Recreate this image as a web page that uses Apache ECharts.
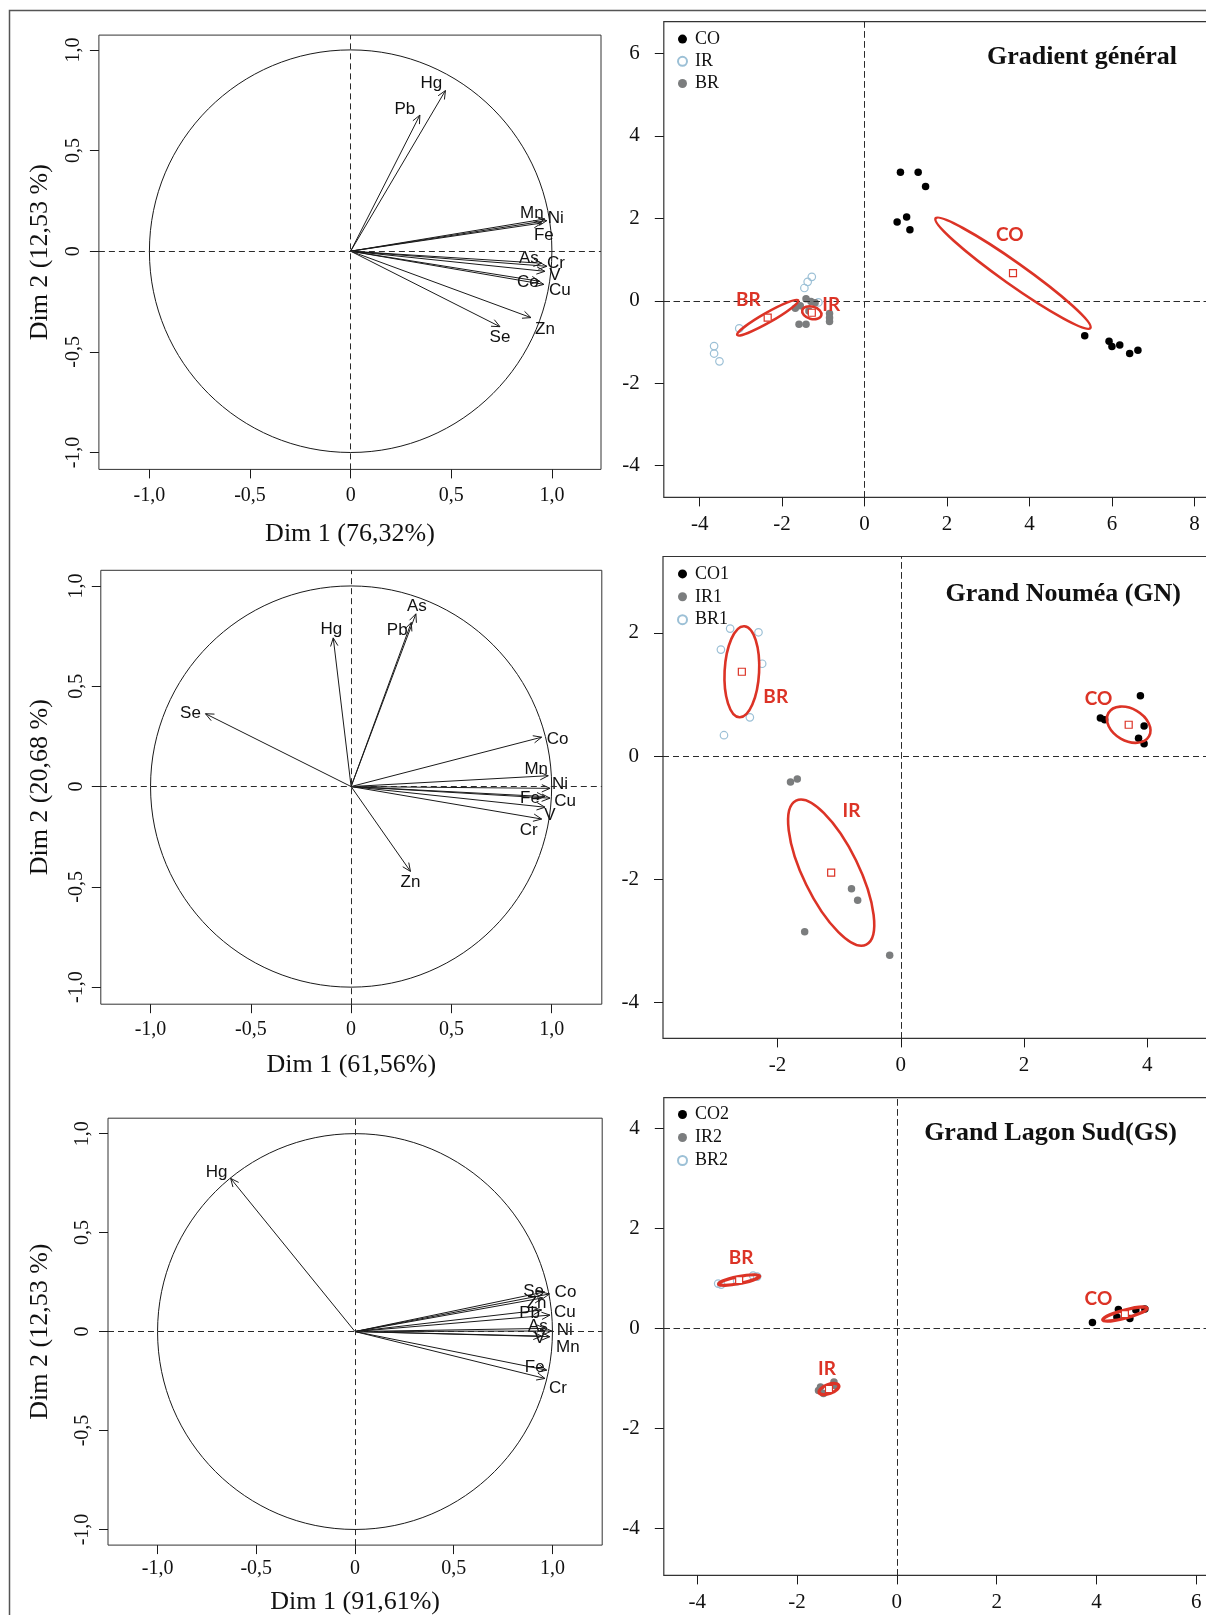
<!DOCTYPE html>
<html><head><meta charset="utf-8">
<script src="https://cdn.jsdelivr.net/npm/echarts@6/dist/echarts.min.js"></script>
<style>html,body{margin:0;padding:0;background:#fff}#c{width:1206px;height:1615px}</style>
</head><body><div id="c"></div>
<script>
// ===== DATA =====
// Correlation circles (Dim 1, Dim 2 loadings)
const varsGradient = ['Hg','Pb','Mn','Ni','Fe','As','Cr','V','Co','Cu','Zn','Se'];
const dim1Gradient = [0.471,0.344,0.965,0.975,0.95,0.95,0.975,0.965,0.94,0.96,0.896,0.742];
const dim2Gradient = [0.798,0.676,0.16,0.152,0.14,-0.06,-0.075,-0.1,-0.15,-0.165,-0.33,-0.375];

const varsGN = ['Hg','Pb','As','Se','Co','Mn','Ni','Fe','Cu','V','Cr','Zn'];
const dim1GN = [-0.089,0.30,0.323,-0.726,0.95,0.983,0.992,0.967,0.992,0.967,0.95,0.296];
const dim2GN = [0.741,0.818,0.861,0.363,0.246,0.054,-0.009,-0.05,-0.058,-0.103,-0.162,-0.423];

const varsGS = ['Hg','Se','Co','Zn','Pb','Cu','As','Ni','V','Mn','Fe','Cr'];
const dim1GS = [-0.63,0.96,0.985,0.95,0.945,0.987,0.962,0.996,0.945,0.987,0.971,0.962];
const dim2GS = [0.774,0.2,0.19,0.17,0.109,0.083,0.016,0.003,-0.023,-0.026,-0.195,-0.237];

const corrCircle = [[0, 0, 1]];

// Individual scores
const coGradient = [[0.87,3.12],[1.30,3.12],[1.48,2.77],[0.79,1.91],[1.02,2.03],[1.10,1.72],[5.34,-0.85],[5.93,-0.98],[6.00,-1.11],[6.19,-1.07],[6.43,-1.28],[6.63,-1.20]];
const irGradient = [[-1.28,0.58],[-1.38,0.46],[-1.46,0.31],[-1.12,-0.04],[-3.65,-1.10],[-3.65,-1.28],[-3.52,-1.47],[-3.04,-0.67]];
const brGradient = [[-1.42,0.05],[-1.20,-0.05],[-1.56,-0.12],[-1.68,-0.18],[-1.30,-0.02],[-1.59,-0.57],[-1.42,-0.57],[-0.85,-0.31],[-0.85,-0.41],[-0.85,-0.50],[-1.35,-0.25]];

const coGN = [[3.89,0.98],[3.24,0.62],[3.31,0.59],[3.95,0.49],[3.86,0.29],[3.95,0.20]];
const irGN = [[-1.79,-0.42],[-1.68,-0.37],[-0.80,-2.15],[-0.70,-2.34],[-1.56,-2.85],[-0.18,-3.23]];
const brGN = [[-2.77,2.07],[-2.31,2.01],[-2.92,1.73],[-2.25,1.50],[-2.45,0.63],[-2.87,0.34]];

const coGS = [[3.92,0.12],[4.44,0.38],[4.67,0.20],[4.97,0.39],[4.79,0.37],[4.41,0.23]];
const irGS = [[-1.57,-1.24],[-1.47,-1.30],[-1.26,-1.07],[-1.24,-1.14],[-1.53,-1.17]];
const brGS = [[-3.58,0.90],[-3.52,0.88],[-2.80,1.04],[-2.88,1.06],[-3.20,0.95]];

// Confidence ellipses: [centreX, centreY, semiMajor, semiMinor, angleDeg]
const ellGroups = ['CO','BR','IR'];
const ellGradient = [[3.60,0.67,2.30,0.27,-35.3],[-2.35,-0.41,0.85,0.12,29.6],[-1.28,-0.29,0.24,0.15,-15]];
const ellLabelGradient = [[3.52,1.59],[-2.82,0.01],[-0.81,-0.11]];
const ellGN = [[3.70,0.51,0.38,0.26,-30],[-2.58,1.37,0.74,0.28,87],[-1.13,-1.89,1.30,0.45,-64]];
const ellLabelGN = [[3.21,0.93],[-2.03,0.96],[-0.80,-0.88]];
const ellGS = [[4.57,0.29,0.46,0.08,14.8],[-3.16,0.97,0.42,0.07,11.3],[-1.36,-1.21,0.21,0.09,20]];
const ellLabelGS = [[4.04,0.60],[-3.12,1.42],[-1.40,-0.80]];

// Tick values
const ticksCircle = [-1,-0.5,0,0.5,1];
const ticksGradX = [-4,-2,0,2,4,6,8];
const ticksGradY = [-4,-2,0,2,4,6];
const ticksGNX = [-2,0,2,4];
const ticksGNY = [-4,-2,0,2];
const ticksGSX = [-4,-2,0,2,4,6];
const ticksGSY = [-4,-2,0,2,4];

// ===== LAYOUT (pixel label offsets for variable names) =====
const offGradient = {Hg:[-14,-7],Pb:[-15,-6],Mn:[-13,-6],Ni:[9,-2],Fe:[2,12],As:[-13,-5],Cr:[9,-3],V:[10,4],Co:[-12,1],Cu:[16,6],Zn:[14,12],Se:[0,11]};
const offGN = {Hg:[-2,-9],Pb:[-14,8],As:[1,-8],Se:[-15,0],Co:[16,2],Mn:[-12,-6],Ni:[10,-4],Fe:[-15,2],Cu:[15,3],V:[5,8],Cr:[-13,11],Zn:[0,11]};
const offGS = {Hg:[-14,-6],Se:[-11,-1],Co:[16,-2],Zn:[-6,5],Pb:[-12,3],Cu:[15,-3],As:[-7,-2],Ni:[13,-1],V:[-2,2],Mn:[18,11],Fe:[-12,-3],Cr:[13,10]};

const SERIF = '"Liberation Serif","Times New Roman",serif';
const SANS = '"Liberation Sans",Arial,sans-serif';
const RED = '#dc3326';
const INK = '#1a1a1a';

const fmtCircle = v => v === 0 ? '0' : v.toFixed(1).replace('.', ',');
const fmtInt = v => String(v);

function zeroLines() {
  return {silent:true, symbol:['none','none'], label:{show:false}, emphasis:{disabled:true},
    lineStyle:{type:[6,4], color:'#2a2a2a', width:1}, data:[{xAxis:0},{yAxis:0}]};
}

function xAx(gi, min, max, ticks, fmt, fs, margin, name, nameGap) {
  const ax = {gridIndex:gi, type:'value', min, max, position:'bottom',
    axisLine:{show:false, onZero:false}, splitLine:{show:false},
    axisTick:{show:true, length:9, lineStyle:{color:INK, width:1}, customValues:ticks},
    axisLabel:{customValues:ticks, formatter:fmt, fontFamily:SERIF, fontSize:fs, color:'#111', margin}};
  if (name) Object.assign(ax, {name, nameLocation:'middle', nameGap, nameTextStyle:{fontFamily:SERIF, fontSize:26, color:'#111'}});
  return ax;
}
function yAx(gi, min, max, ticks, fmt, fs, margin, rotate, name, nameGap) {
  const ax = {gridIndex:gi, type:'value', min, max, position:'left',
    axisLine:{show:false, onZero:false}, splitLine:{show:false},
    axisTick:{show:true, length:9, lineStyle:{color:INK, width:1}, customValues:ticks},
    axisLabel:{customValues:ticks, formatter:fmt, fontFamily:SERIF, fontSize:fs, color:'#111', margin, rotate}};
  if (name) Object.assign(ax, {name, nameLocation:'middle', nameGap, nameRotate:90, nameTextStyle:{fontFamily:SERIF, fontSize:26, color:'#111'}});
  return ax;
}

function circleSeries(gi) {
  return {type:'custom', xAxisIndex:gi, yAxisIndex:gi, silent:true, clip:false, z:2,
    data: corrCircle,
    renderItem(params, api) {
      const c = api.coord([api.value(0), api.value(1)]);
      const s = api.size([api.value(2), api.value(2)]);
      return {type:'ellipse', shape:{cx:c[0], cy:c[1], rx:s[0], ry:s[1]}, style:{fill:'none', stroke:INK, lineWidth:1}};
    },
    markLine: zeroLines()};
}

function arrowSeries(gi, names, d1, d2, offs) {
  return {type:'custom', xAxisIndex:gi, yAxisIndex:gi, silent:true, clip:false, z:3,
    data: names.map((n, i) => [d1[i], d2[i], i]),
    renderItem(params, api) {
      const i = api.value(2);
      const o = api.coord([0, 0]);
      const p = api.coord([api.value(0), api.value(1)]);
      const ang = Math.atan2(p[1] - o[1], p[0] - o[0]);
      const L = 9, A = 0.42;
      const h1 = [p[0] - L * Math.cos(ang - A), p[1] - L * Math.sin(ang - A)];
      const h2 = [p[0] - L * Math.cos(ang + A), p[1] - L * Math.sin(ang + A)];
      const off = offs[names[i]];
      return {type:'group', children:[
        {type:'line', shape:{x1:o[0], y1:o[1], x2:p[0], y2:p[1]}, style:{stroke:INK, lineWidth:1}},
        {type:'polyline', shape:{points:[h1, p, h2]}, style:{stroke:INK, fill:'none', lineWidth:1}},
        {type:'text', x:p[0] + off[0], y:p[1] + off[1], style:{text:names[i], fill:'#111', font:'17px ' + SANS, align:'center', verticalAlign:'middle'}}
      ]};
    }};
}

function ellipseSeries(gi, ells, labels, lw) {
  return {type:'custom', xAxisIndex:gi, yAxisIndex:gi, silent:true, clip:false, z:6,
    data: ells.map((e, i) => [e[0], e[1], e[2], e[3], e[4], labels[i][0], labels[i][1], i]),
    renderItem(params, api) {
      const cx = api.value(0), cy = api.value(1), a = api.value(2), b = api.value(3);
      const t = api.value(4) * Math.PI / 180;
      const c = api.coord([cx, cy]);
      const pa = api.coord([cx + a * Math.cos(t), cy + a * Math.sin(t)]);
      const pb = api.coord([cx - b * Math.sin(t), cy + b * Math.cos(t)]);
      const ra = Math.hypot(pa[0] - c[0], pa[1] - c[1]);
      const rb = Math.hypot(pb[0] - c[0], pb[1] - c[1]);
      const rot = Math.atan2(-(pa[1] - c[1]), pa[0] - c[0]);
      const lp = api.coord([api.value(5), api.value(6)]);
      return {type:'group', children:[
        {type:'ellipse', x:c[0], y:c[1], rotation:rot, shape:{cx:0, cy:0, rx:ra, ry:rb}, style:{fill:'none', stroke:RED, lineWidth:lw}},
        {type:'rect', shape:{x:c[0] - 3.5, y:c[1] - 3.5, width:7, height:7}, style:{fill:'#fff', stroke:RED, lineWidth:1.2}},
        {type:'text', x:lp[0], y:lp[1], style:{text:ellGroups[api.value(7)], fill:RED, font:'bold 19px Lato,"Open Sans",sans-serif', align:'center', verticalAlign:'middle'}}
      ]};
    }};
}

function pts(name, gi, data, kind) {
  let style;
  if (kind === 'black') style = {color:'#000', borderColor:'#000', borderWidth:0, opacity:1};
  else if (kind === 'grey') style = {color:'#7b7d7e', borderColor:'#7b7d7e', borderWidth:0, opacity:1};
  else style = {color:'rgba(255,255,255,0)', borderColor:'#9cc0d6', borderWidth:1.2, opacity:1};
  return {type:'scatter', name, xAxisIndex:gi, yAxisIndex:gi, data, symbol:'circle', symbolSize:7.5, itemStyle:style, silent:true, z:4,
    markLine: zeroLines()};
}

function legendFor(names, top, gap) {
  return {data:names, orient:'vertical', left:677, top, itemWidth:9, itemHeight:9, itemGap:gap, padding:0,
    selectedMode:false, itemStyle:{opacity:1}, textStyle:{fontFamily:SERIF, fontSize:18, color:'#111', lineHeight:18, padding:[0,0,0,3]}};
}

const chart = echarts.init(document.getElementById('c'), null, {renderer:'canvas'});
chart.setOption({
  animation:false,
  backgroundColor:'#fff',
  graphic:[{type:'rect', silent:true, z:100, shape:{x:9.5, y:10.5, width:1400, height:1800}, style:{fill:'none', stroke:'#555', lineWidth:1.5}}],
  title:[
    {text:'Gradient général', right:29, top:44, padding:0, textStyle:{fontFamily:SERIF, fontWeight:'bold', fontSize:26, color:'#111'}},
    {text:'Grand Nouméa (GN)', right:25, top:581, padding:0, textStyle:{fontFamily:SERIF, fontWeight:'bold', fontSize:26, color:'#111'}},
    {text:'Grand Lagon Sud(GS)', right:29, top:1120, padding:0, textStyle:{fontFamily:SERIF, fontWeight:'bold', fontSize:26, color:'#111'}}
  ],
  legend:[
    legendFor(['CO','IR','BR'], 30.1, 4.2),
    legendFor(['CO1','IR1','BR1'], 564.9, 4.9),
    legendFor(['CO2','IR2','BR2'], 1105.5, 5.0)
  ],
  grid:[
    {left:98.9, top:35.1, width:502.1, height:434.3, show:true, borderColor:'#333', borderWidth:1, backgroundColor:'#fff', outerBoundsMode:'none'},
    {left:663.8, top:21.7, width:551.2, height:475.7, show:true, borderColor:'#333', borderWidth:1.2, backgroundColor:'#fff', outerBoundsMode:'none'},
    {left:100.8, top:570.3, width:501, height:433.9, show:true, borderColor:'#333', borderWidth:1, backgroundColor:'#fff', outerBoundsMode:'none'},
    {left:663, top:556.5, width:558.1, height:481.9, show:true, borderColor:'#333', borderWidth:1.2, backgroundColor:'#fff', outerBoundsMode:'none'},
    {left:108, top:1118.2, width:494.2, height:426.9, show:true, borderColor:'#333', borderWidth:1, backgroundColor:'#fff', outerBoundsMode:'none'},
    {left:663.8, top:1097.7, width:552.4, height:477.7, show:true, borderColor:'#333', borderWidth:1.2, backgroundColor:'#fff', outerBoundsMode:'none'}
  ],
  xAxis:[
    xAx(0, -1.251, 1.244, ticksCircle, fmtCircle, 20, 16, 'Dim 1 (76,32%)', 52),
    xAx(1, -4.87, 8.5, ticksGradX, fmtInt, 21, 17),
    xAx(2, -1.248, 1.25, ticksCircle, fmtCircle, 20, 16, 'Dim 1 (61,56%)', 48),
    xAx(3, -3.86, 5.2, ticksGNX, fmtInt, 21, 17),
    xAx(4, -1.251, 1.252, ticksCircle, fmtCircle, 20, 14, 'Dim 1 (91,61%)', 44),
    xAx(5, -4.67, 6.4, ticksGSX, fmtInt, 21, 17)
  ],
  yAxis:[
    yAx(0, -1.084, 1.0735, ticksCircle, fmtCircle, 20, 15, 90, 'Dim 2 (12,53 %)', 46),
    yAx(1, -4.77, 6.77, ticksGradY, fmtInt, 21, 24, 0),
    yAx(2, -1.085, 1.078, ticksCircle, fmtCircle, 20, 14, 90, 'Dim 2 (20,68 %)', 48),
    yAx(3, -4.58, 3.24, ticksGNY, fmtInt, 21, 24, 0),
    yAx(4, -1.079, 1.078, ticksCircle, fmtCircle, 20, 15, 90, 'Dim 2 (12,53 %)', 55),
    yAx(5, -4.94, 4.62, ticksGSY, fmtInt, 21, 24, 0)
  ],
  series:[
    circleSeries(0), arrowSeries(0, varsGradient, dim1Gradient, dim2Gradient, offGradient),
    circleSeries(2), arrowSeries(2, varsGN, dim1GN, dim2GN, offGN),
    circleSeries(4), arrowSeries(4, varsGS, dim1GS, dim2GS, offGS),

    pts('CO', 1, coGradient, 'black'), pts('IR', 1, irGradient, 'hollow'), pts('BR', 1, brGradient, 'grey'),
    ellipseSeries(1, ellGradient, ellLabelGradient, 2.6),

    pts('CO1', 3, coGN, 'black'), pts('IR1', 3, irGN, 'grey'), pts('BR1', 3, brGN, 'hollow'),
    ellipseSeries(3, ellGN, ellLabelGN, 2.6),

    pts('CO2', 5, coGS, 'black'), pts('IR2', 5, irGS, 'grey'), pts('BR2', 5, brGS, 'hollow'),
    ellipseSeries(5, ellGS, ellLabelGS, 3.2)
  ]
});
</script></body></html>
